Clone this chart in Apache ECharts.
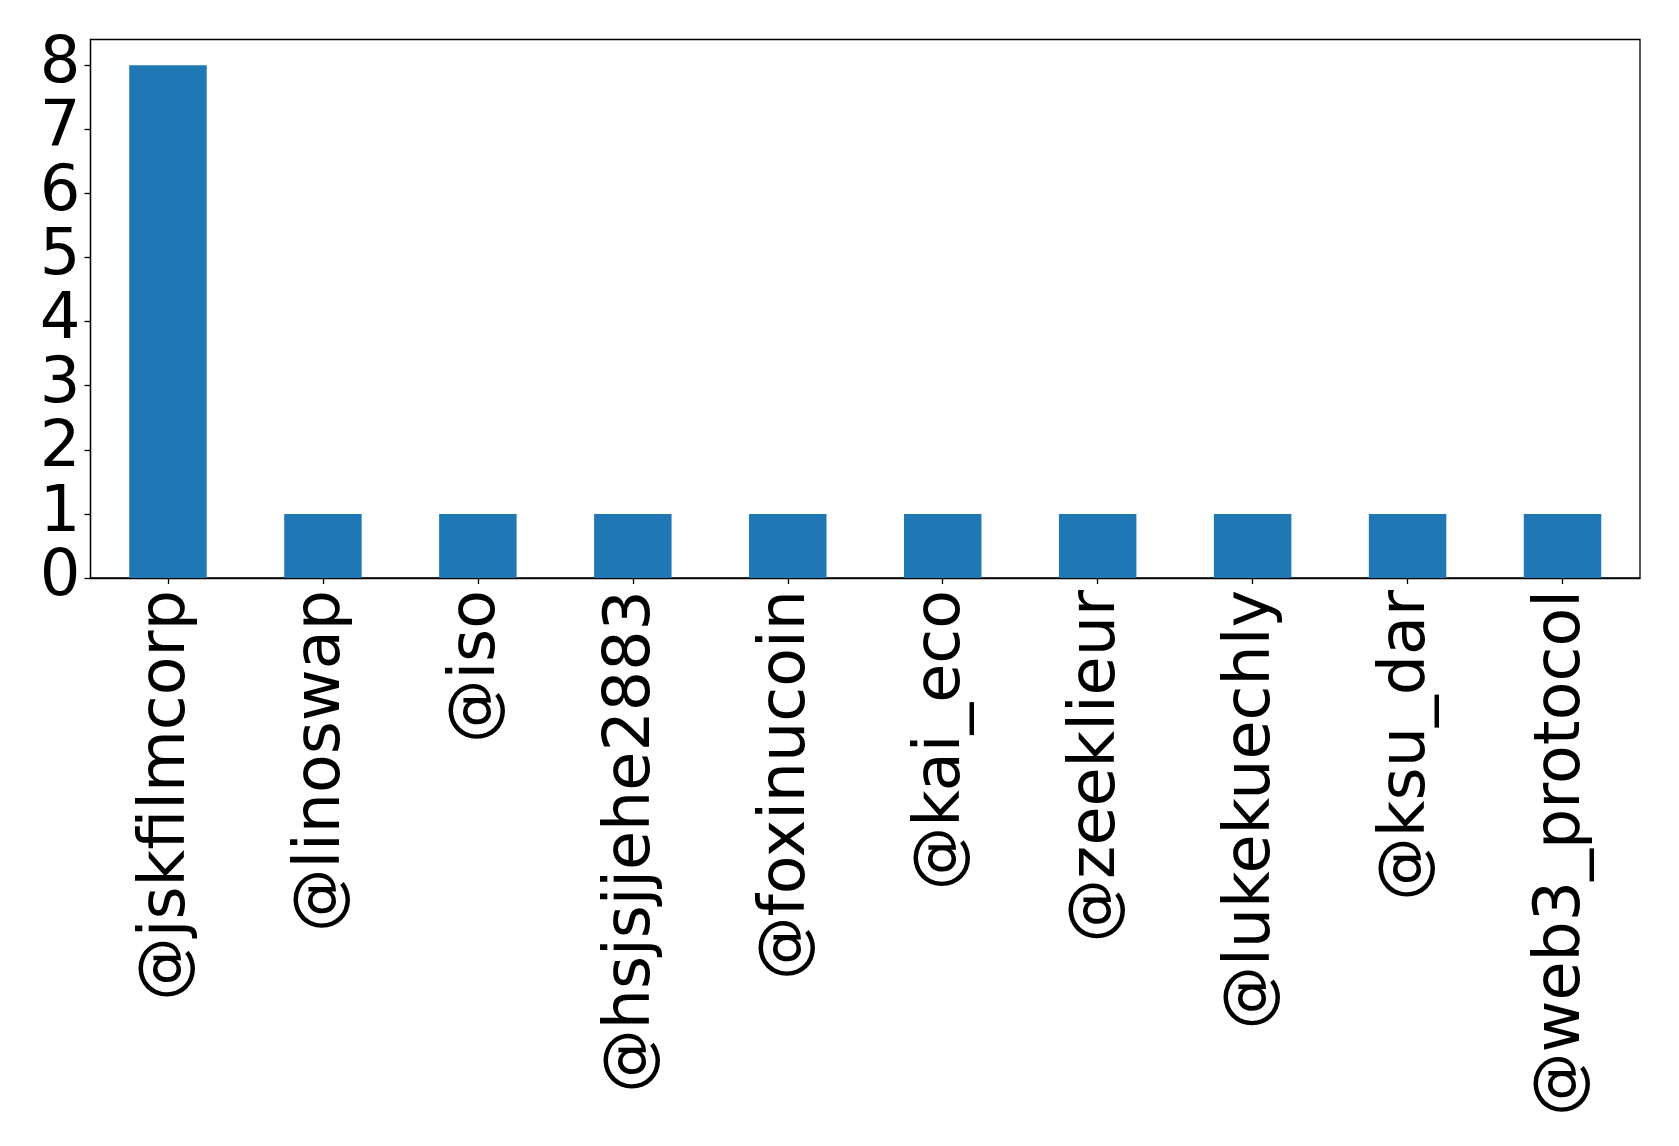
<!DOCTYPE html>
<html>
<head>
<meta charset="utf-8">
<script src="https://cdn.jsdelivr.net/npm/echarts@6/dist/echarts.min.js"></script>
<style>
html,body{margin:0;padding:0;background:#fff;}
#chart{width:1679px;height:1146px;}
</style>
</head>
<body>
<div id="chart"></div>
<script>
const categories = ['@jskfilmcorp','@linoswap','@iso','@hsjsjjehe2883','@foxinucoin','@kai_eco','@zeeklieur','@lukekuechly','@ksu_dar','@web3_protocol'];
const values = [8,1,1,1,1,1,1,1,1,1];
const yTicks = [0,1,2,3,4,5,6,7,8];

const chart = echarts.init(document.getElementById('chart'), null, {renderer:'canvas'});
const font = 'DejaVu Sans';
chart.setOption({
  animation: false,
  backgroundColor: '#ffffff',
  grid: {left: 90.5, top: 39.5, right: 39, bottom: 568, show: true, borderColor: '#000', borderWidth: 1.3, backgroundColor: 'transparent'},
  xAxis: {
    type: 'category',
    data: categories,
    boundaryGap: true,
    axisLine: {show: true, lineStyle: {color: '#000', width: 1.3}},
    axisTick: {show: true, alignWithLabel: true, length: 6, lineStyle: {color: '#000', width: 1.3}},
    axisLabel: {rotate: 90, interval: 0, margin: 12, color: '#000', fontFamily: font, fontSize: 63.5}
  },
  yAxis: {
    type: 'value',
    min: 0, max: 8.4, interval: 1,
    splitLine: {show: false},
    axisLine: {show: true, lineStyle: {color: '#000', width: 1.3}},
    axisTick: {show: true, length: 6, customValues: yTicks, lineStyle: {color: '#000', width: 1.3}},
    axisLabel: {customValues: yTicks, margin: 10, color: '#000', fontFamily: font, fontSize: 64}
  },
  series: [{
    type: 'bar',
    data: values,
    barWidth: '50%',
    itemStyle: {color: '#1f77b4'}
  }]
});
</script>
</body>
</html>
